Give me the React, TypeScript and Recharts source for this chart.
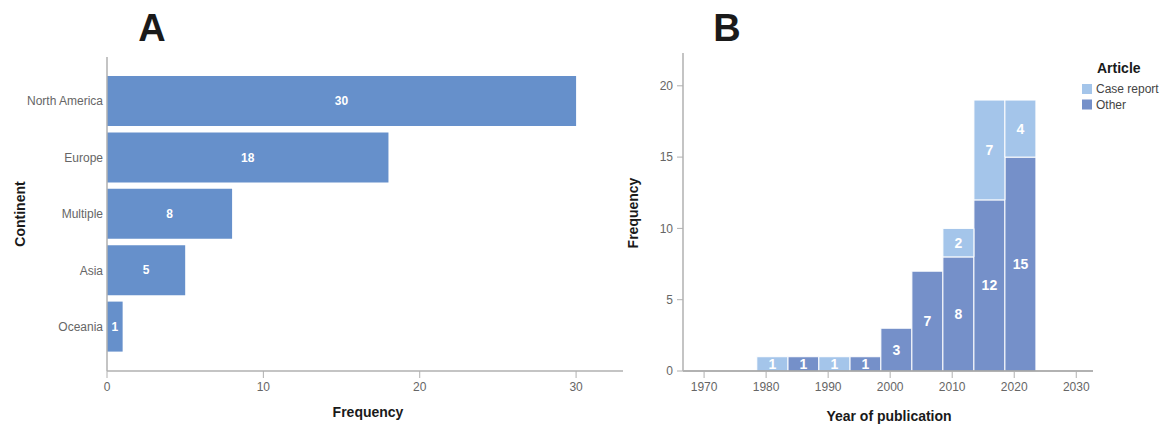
import { BarChart, Bar, XAxis, YAxis, LabelList } from 'recharts';

// Panel A: articles by continent
const continents = ['North America', 'Europe', 'Multiple', 'Asia', 'Oceania'];
const continentCounts = [30, 18, 8, 5, 1];
const freqTicksA = [0, 10, 20, 30];

// Panel B: 5-year bins of publication year (bin centres)
const binYears = [1981, 1986, 1991, 1996, 2001, 2006, 2011, 2016, 2021];
const caseReport = [1, 0, 1, 0, 0, 0, 2, 7, 4];
const other = [0, 1, 0, 1, 3, 7, 8, 12, 15];
const yearTicks = [1970, 1980, 1990, 2000, 2010, 2020, 2030];
const freqTicksB = [0, 5, 10, 15, 20];

const FONT = '"Liberation Sans", Arial, sans-serif';
const COLOR_A = '#6690cb';
const COLOR_OTHER = '#7590c9';
const COLOR_CASE = '#a4c5ea';
const AXIS = '#b0b0b0';
const TICK = { fill: '#666', fontSize: 12, fontFamily: FONT };

const continentData = continents.map((name, i) => ({ name, value: continentCounts[i] }));
const yearData = binYears.map((year, i) => ({ year, caseReport: caseReport[i], other: other[i] }));

// year axis domain and the pixel padding that lines the bins up with it
const YEAR_MIN = 1966.6;
const YEAR_MAX = 2032.7;
const PLOT_W_B = 410;
const pxPerYear = PLOT_W_B / (YEAR_MAX - YEAR_MIN);
const padLeft = (binYears[0] - 2.5 - YEAR_MIN) * pxPerYear;
const padRight = (YEAR_MAX - (binYears[binYears.length - 1] + 2.5)) * pxPerYear;

const hideZero = (v: any) => (v ? v : '');

function ContinentChart() {
  return (
    <BarChart
      width={640}
      height={426}
      layout="vertical"
      data={continentData}
      barCategoryGap={3}
      margin={{ top: 57, right: 17, bottom: 25, left: 0 }}
    >
      <XAxis
        type="number"
        domain={[0, 33]}
        ticks={freqTicksA}
        height={30}
        tick={TICK}
        tickSize={7}
        tickMargin={4}
        stroke={AXIS}
        axisLine={{ stroke: AXIS, strokeWidth: 1.5 }}
      />
      <YAxis
        type="category"
        dataKey="name"
        width={107}
        tick={TICK}
        tickLine={false}
        tickSize={0}
        tickMargin={4}
        padding={{ top: 16, bottom: 16 }}
        axisLine={{ stroke: AXIS, strokeWidth: 1.5 }}
      />
      <Bar dataKey="value" fill={COLOR_A} isAnimationActive={false}>
        <LabelList
          dataKey="value"
          position="center"
          fill="#fff"
          fontSize={12}
          fontWeight="bold"
          fontFamily={FONT}
        />
      </Bar>
    </BarChart>
  );
}

function YearChart() {
  return (
    <BarChart
      width={529}
      height={426}
      data={yearData}
      barCategoryGap={0}
      margin={{ top: 53, right: 76, bottom: 25, left: 0 }}
    >
      <XAxis
        xAxisId="years"
        type="number"
        dataKey="year"
        domain={[YEAR_MIN, YEAR_MAX]}
        allowDataOverflow
        ticks={yearTicks}
        height={30}
        tick={TICK}
        tickSize={7}
        tickMargin={4}
        stroke={AXIS}
        axisLine={{ stroke: '#999', strokeWidth: 1.5 }}
      />
      <XAxis
        xAxisId="bins"
        type="category"
        dataKey="year"
        orientation="top"
        height={0}
        hide
        padding={{ left: padLeft, right: padRight }}
      />
      <YAxis
        type="number"
        domain={[0, 22.3]}
        allowDataOverflow
        ticks={freqTicksB}
        width={43}
        tick={TICK}
        tickSize={6}
        tickMargin={4}
        stroke={AXIS}
        axisLine={{ stroke: AXIS, strokeWidth: 1.5 }}
      />
      <Bar
        xAxisId="bins"
        dataKey="other"
        stackId="a"
        fill={COLOR_OTHER}
        stroke="#fff"
        strokeWidth={1}
        isAnimationActive={false}
      >
        <LabelList
          dataKey="other"
          position="center"
          formatter={hideZero}
          fill="#fff"
          fontSize={14}
          fontWeight="bold"
          fontFamily={FONT}
        />
      </Bar>
      <Bar
        xAxisId="bins"
        dataKey="caseReport"
        stackId="a"
        fill={COLOR_CASE}
        stroke="#fff"
        strokeWidth={1}
        isAnimationActive={false}
      >
        <LabelList
          dataKey="caseReport"
          position="center"
          formatter={hideZero}
          fill="#fff"
          fontSize={14}
          fontWeight="bold"
          fontFamily={FONT}
        />
      </Bar>
    </BarChart>
  );
}

export default function App() {
  const title = { fontFamily: FONT, fontWeight: 'bold', fill: '#1a1a1a' } as const;
  return (
    <div style={{ position: 'absolute', left: 0, top: 0, width: 1169, height: 426, background: '#fff' }}>
      <div style={{ position: 'absolute', left: 0, top: 0 }}>
        <ContinentChart />
      </div>
      <div style={{ position: 'absolute', left: 640, top: 0 }}>
        <YearChart />
      </div>
      <svg
        width={1169}
        height={426}
        style={{ position: 'absolute', left: 0, top: 0, pointerEvents: 'none' }}
      >
        <text x={152} y={41} fontSize={38} textAnchor="middle" {...title}>A</text>
        <text x={727} y={41} fontSize={38} textAnchor="middle" {...title}>B</text>

        <text x={25} y={214} fontSize={14} textAnchor="middle" transform="rotate(-90 25 214)" {...title}>
          Continent
        </text>
        <text x={368} y={417} fontSize={14} textAnchor="middle" {...title}>Frequency</text>

        <text x={638} y={213} fontSize={14} textAnchor="middle" transform="rotate(-90 638 213)" {...title}>
          Frequency
        </text>
        <text x={889} y={421} fontSize={14} textAnchor="middle" {...title}>Year of publication</text>

        <text x={1097} y={73} fontSize={14} {...title}>Article</text>
        <rect x={1082} y={84} width={10} height={10} fill={COLOR_CASE} />
        <text x={1096} y={93} fontSize={12} fontFamily={FONT} fill="#444">Case report</text>
        <rect x={1082} y={99.5} width={10} height={10} fill={COLOR_OTHER} />
        <text x={1096} y={108.5} fontSize={12} fontFamily={FONT} fill="#444">Other</text>
      </svg>
    </div>
  );
}
